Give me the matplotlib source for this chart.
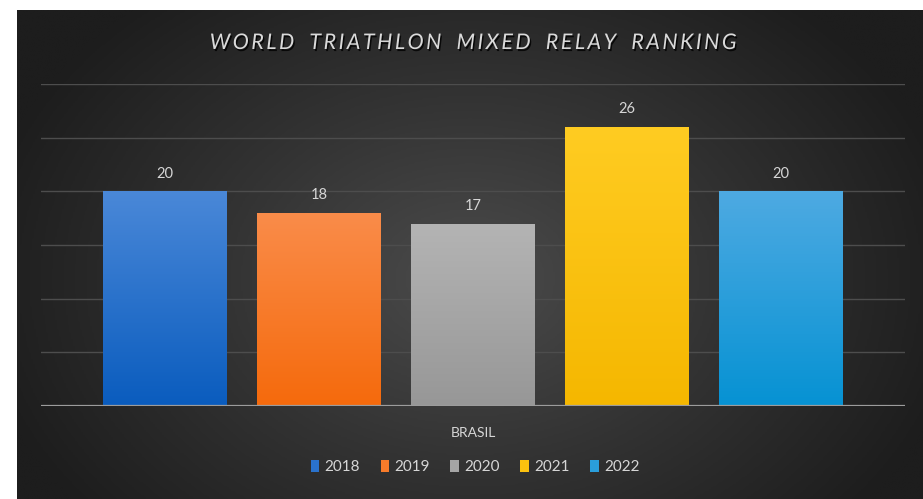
import numpy as np
import matplotlib
matplotlib.use("Agg")
import matplotlib.pyplot as plt
import matplotlib.patheffects as pe
from matplotlib.colors import LinearSegmentedColormap
from matplotlib.patches import Patch

# ---- data ----
category = "BRASIL"
years = ["2018", "2019", "2020", "2021", "2022"]
ranking = [20, 18, 17, 26, 20]
top_colors = ["#4a88d8", "#fa8c4a", "#b4b4b4", "#ffcc22", "#4eaae2"]
bottom_colors = ["#0a5cbe", "#f56a0c", "#979797", "#f5b700", "#0692d3"]
legend_colors = ["#2a72cc", "#f77b2a", "#a5a5a5", "#fbc10f", "#2a9edb"]
title = "WORLD TRIATHLON MIXED RELAY RANKING"

plt.rcParams['font.family'] = ['Lato', 'DejaVu Sans']

W, H = 923, 499
fig = plt.figure(figsize=(W / 100, H / 100), dpi=100)
fig.patch.set_facecolor("white")

# background with radial gradient
bg = fig.add_axes([17 / W, 0, (W - 17) / W, (H - 10) / H])
bg.set_axis_off()
yy, xx = np.mgrid[0:1:300j, 0:1:500j]
r = np.sqrt(((xx - 0.5) / 0.55) ** 2 + ((yy - 0.45) / 0.75) ** 2)
r = np.clip(r, 0, 1)
bg_cmap = LinearSegmentedColormap.from_list("bg", ["#4b4b4b", "#333333", "#1d1d1d"])
bg.imshow(r, cmap=bg_cmap, aspect="auto", extent=[0, 1, 0, 1], origin="lower")
bg.set_xlim(0, 1)
bg.set_ylim(0, 1)

ax = fig.add_axes([41 / W, 1 - 406 / H, 864 / W, (406 - 84) / H])
ax.set_facecolor("none")
ax.set_xlim(-0.5, 0.5)
ax.set_ylim(0, 30)
for s in ax.spines.values():
    s.set_visible(False)
ax.set_yticks([5, 10, 15, 20, 25, 30])
ax.yaxis.grid(True, color="#4d4d4d", linewidth=1.0)
ax.set_axisbelow(True)
ax.tick_params(axis="y", length=0, labelleft=False)
ax.set_xticks([])
ax.axhline(0, color="#9c9c9c", linewidth=1.6, zorder=5)

slot = 154 / 864
bw = 124 / 864
n = len(years)
grad = np.linspace(0, 1, 256).reshape(-1, 1)
for i, (yr, v) in enumerate(zip(years, ranking)):
    x = (i - (n - 1) / 2) * slot
    bars = ax.bar(x, v, width=bw, color=legend_colors[i], zorder=3)
    b = bars[0]
    cm = LinearSegmentedColormap.from_list("g%d" % i, [bottom_colors[i], top_colors[i]])
    im = ax.imshow(grad, cmap=cm, aspect="auto", origin="lower",
                   extent=[x - bw / 2, x + bw / 2, 0, v], zorder=4)
    im.set_clip_path(b)
    ax.text(x, v + 1.0, str(v), ha="center", va="bottom", color="#d6d6d6",
            fontsize=10.5, zorder=6)

ax.set_xlim(-0.5, 0.5)
ax.set_ylim(0, 30)

fig.text(473 / W, 1 - 433 / H, category, ha="center", va="center",
         color="#d6d6d6", fontsize=10)

spaced = "\u2009".join(list(title)).replace("\u2009 \u2009", "   ")
fig.text(473 / W, 1 - 43 / H, spaced, ha="center", va="center",
         color="#dadada", fontsize=15.5, style="italic",
         path_effects=[pe.withSimplePatchShadow(offset=(1, -1.5), shadow_rgbFace="black", alpha=0.8)])

handles = [Patch(facecolor=c, edgecolor="none") for c in legend_colors]
leg = fig.legend(handles, years, loc="center", bbox_to_anchor=(475 / W, 1 - 467 / H),
                 ncol=5, frameon=False, fontsize=11, handlelength=0.55, handleheight=0.9,
                 handletextpad=0.35, columnspacing=1.35, labelcolor="#d6d6d6")

fig.savefig("out.png", dpi=100, facecolor="white")
